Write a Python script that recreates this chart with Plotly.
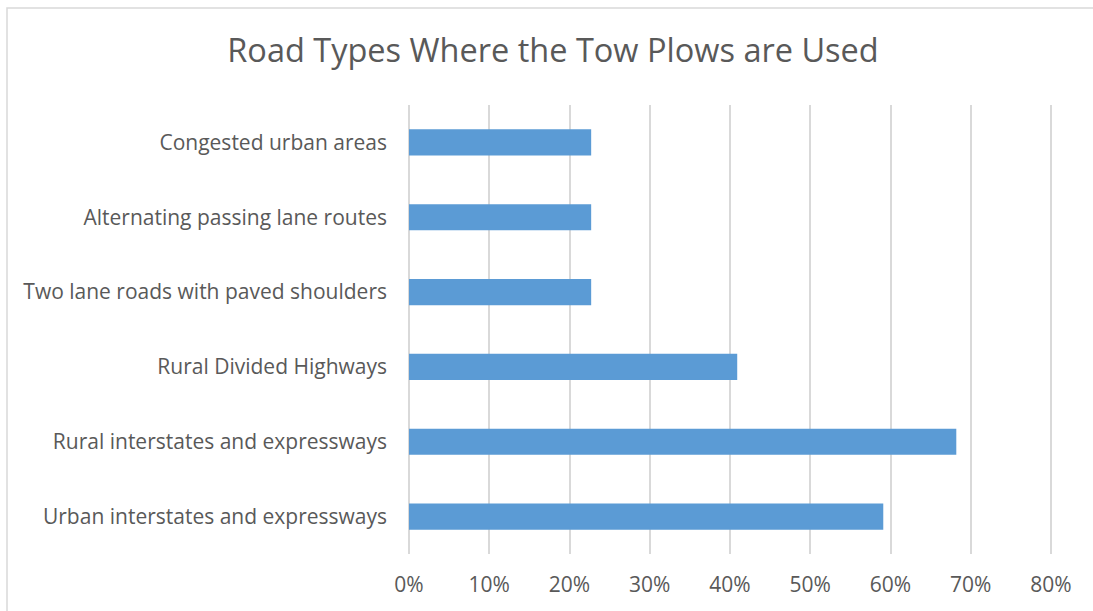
import plotly.graph_objects as go

# Survey results: share of agencies using tow plows on each road type
categories = [
    "Urban interstates and expressways",
    "Rural interstates and expressways",
    "Rural Divided Highways",
    "Two lane roads with paved shoulders",
    "Alternating passing lane routes",
    "Congested urban areas",
]
shares = [0.591, 0.682, 0.409, 0.227, 0.227, 0.227]
x_ticks = [0, 0.1, 0.2, 0.3, 0.4, 0.5, 0.6, 0.7, 0.8]
x_tick_labels = ["0%", "10%", "20%", "30%", "40%", "50%", "60%", "70%", "80%"]

W, H = 1093, 611
ML, MR, MT, MB = 407, 40, 105, 57
FONT = "Open Sans"
GREY_TEXT = "#595959"
GRID = "#d9d9d9"

fig = go.Figure(
    go.Bar(
        x=shares,
        y=categories,
        orientation="h",
        marker=dict(color="#5b9bd5", line=dict(width=0)),
        hoverinfo="x+y",
    )
)

pw = W - ML - MR
ph = H - MT - MB
# chart-area outline, expressed in paper units
fig.add_shape(
    type="rect",
    xref="paper", yref="paper",
    x0=(7 - ML) / pw, x1=(W + 20 - ML) / pw,
    y0=-(H + 20 - MT - ph) / ph, y1=(H - MB - 8) / ph,
    line=dict(color=GRID, width=1.5),
    fillcolor="rgba(0,0,0,0)",
    layer="below",
)

fig.update_layout(
    width=W,
    height=H,
    margin=dict(l=ML, r=MR, t=MT, b=MB),
    paper_bgcolor="white",
    plot_bgcolor="white",
    bargap=0.65,
    showlegend=False,
    font=dict(family=FONT, color=GREY_TEXT),
    title=dict(
        text="Road Types Where the Tow Plows are Used",
        x=553 / W,
        xanchor="center",
        y=1 - 51 / H,
        yanchor="middle",
        font=dict(family=FONT, size=32.5, color=GREY_TEXT),
    ),
    xaxis=dict(
        # small padding so the 0% and 80% gridlines are drawn
        range=[-0.0025, 0.8025],
        tickvals=x_ticks,
        ticktext=x_tick_labels,
        showgrid=True,
        gridcolor=GRID,
        gridwidth=2,
        zeroline=False,
        showline=False,
        ticks="",
        tickfont=dict(family=FONT, size=21, color=GREY_TEXT),
        ticklabelstandoff=16,
        fixedrange=True,
    ),
    yaxis=dict(
        categoryorder="array",
        categoryarray=categories,
        showgrid=False,
        zeroline=False,
        showline=False,
        ticks="",
        tickfont=dict(family=FONT, size=21, color=GREY_TEXT),
        ticklabelstandoff=19,
        fixedrange=True,
    ),
)

fig.write_html("out.html")
